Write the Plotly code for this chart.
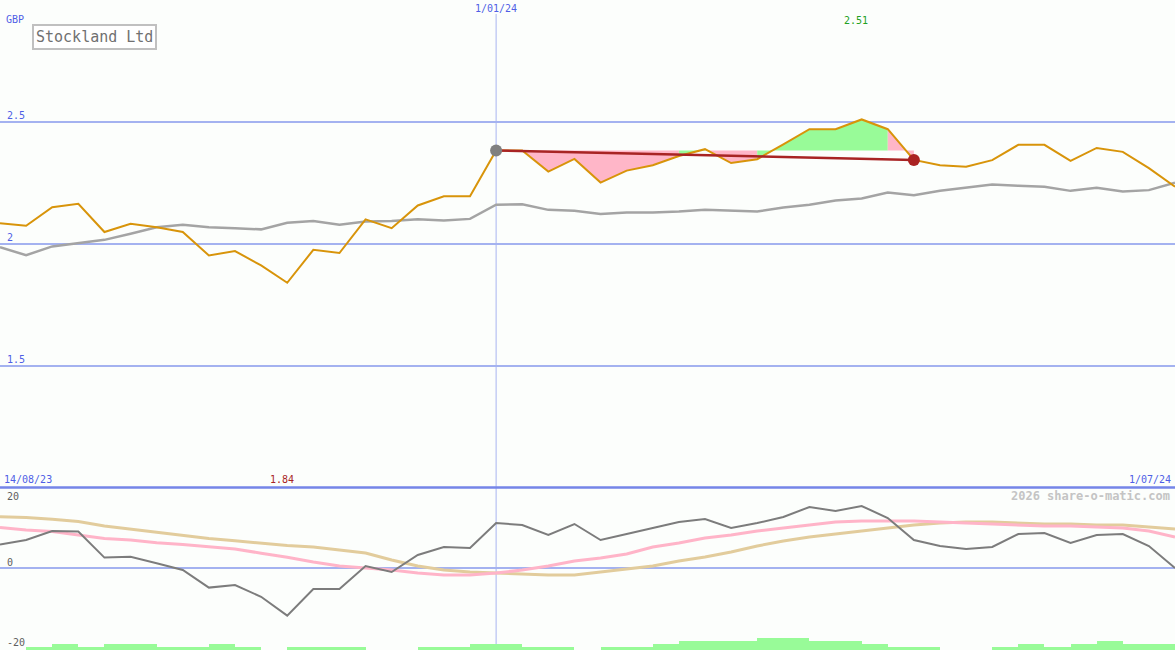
import pandas as pd
import plotly.graph_objects as go

# ---------------- data ----------------
dates = pd.date_range("2023-08-21", periods=46, freq="7D")

price = [2.084, 2.074, 2.150, 2.164, 2.048, 2.082, 2.068, 2.048, 1.952, 1.970,
         1.911, 1.840, 1.975, 1.962, 2.100, 2.064, 2.157, 2.195, 2.195, 2.383,
         2.383, 2.296, 2.348, 2.251, 2.300, 2.322, 2.360, 2.388, 2.331, 2.347,
         2.408, 2.470, 2.470, 2.510, 2.470, 2.344, 2.322, 2.316, 2.343, 2.406,
         2.406, 2.340, 2.393, 2.377, 2.310, 2.234]

moving_avg = [1.986, 1.953, 1.989, 2.002, 2.016, 2.041, 2.068, 2.078, 2.068, 2.064,
              2.059, 2.086, 2.093, 2.078, 2.091, 2.093, 2.101, 2.095, 2.102, 2.160,
              2.162, 2.139, 2.135, 2.122, 2.128, 2.128, 2.132, 2.140, 2.137, 2.132,
              2.149, 2.160, 2.177, 2.186, 2.210, 2.199, 2.217, 2.230, 2.243, 2.238,
              2.234, 2.217, 2.230, 2.214, 2.220, 2.250]

oscillator = [5.9, 7.0, 9.25, 9.1, 2.6, 2.8, 1.2, -0.5, -4.9, -4.25,
              -7.2, -11.9, -5.25, -5.25, 0.5, -1.0, 3.25, 5.25, 5.0, 11.25,
              10.75, 8.25, 11.0, 7.0, 8.5, 10.0, 11.5, 12.25, 10.0, 11.25,
              12.75, 15.25, 14.25, 15.5, 12.5, 7.0, 5.5, 4.75, 5.25, 8.5,
              8.75, 6.25, 8.25, 8.5, 5.5, 0.0]

osc_medium = [10.1, 9.5, 9.1, 8.25, 7.4, 7.0, 6.3, 5.9, 5.3, 4.75,
              3.7, 2.7, 1.5, 0.5, 0.0, -0.5, -1.25, -1.75, -1.75, -1.25,
              -0.5, 0.5, 1.75, 2.5, 3.5, 5.25, 6.25, 7.5, 8.25, 9.25,
              10.0, 10.75, 11.5, 11.75, 11.75, 11.75, 11.5, 11.25, 11.0, 10.75,
              10.5, 10.5, 10.25, 10.0, 9.25, 7.75]

osc_slow = [12.8, 12.6, 12.2, 11.6, 10.5, 9.7, 8.9, 8.25, 7.4, 6.8,
            6.2, 5.6, 5.25, 4.5, 3.75, 2.0, 0.5, -0.5, -1.0, -1.25,
            -1.5, -1.75, -1.75, -1.0, -0.25, 0.5, 1.75, 2.75, 4.0, 5.5,
            6.75, 7.75, 8.5, 9.25, 10.0, 10.75, 11.25, 11.5, 11.5, 11.25,
            11.0, 11.0, 10.75, 10.75, 10.25, 9.75]

bar_levels = [0, 1, 2, 1, 2, 2, 1, 1, 2, 1, 0, 1, 1, 1, 0, 0, 1, 1, 2, 2, 1, 1, 0,
              1, 1, 2, 3, 3, 3, 4, 4, 3, 3, 2, 1, 1, 0, 0, 1, 2, 1, 2, 3, 2, 2]

trend_start, trend_end = 19, 35
marker_date = "2024-01-01"
marker_label = "1/01/24"
title = "Stockland Ltd"
currency = "GBP"
price_ticks = [1.5, 2, 2.5]
price_tick_text = ["1.5", "2", "2.5"]
osc_ticks = ["20", "0", "-20"]
start_label, end_label = "14/08/23", "1/07/24"
watermark = "2026 share-o-matic.com"

# ---------------- styles ----------------
BG = "#fcfefc"
BLUE_TXT = "#4f5fe6"
GRID = "#a4b2f0"
FONT = "DejaVu Sans Mono"
W, H = 1175, 650
GREEN = "#98fb98"
PINK = "#ffb6c8"

fig = go.Figure()

# fill polygons between price and the starting level of the trend, grouped in runs
base = price[trend_start]
seg_cols = [GREEN if price[i + 1] > base else PINK for i in range(trend_start, trend_end)]
runs = []
i = trend_start
while i < trend_end:
    c = seg_cols[i - trend_start]
    j = i
    while j + 1 < trend_end and seg_cols[j + 1 - trend_start] == c:
        j += 1
    runs.append((i, j + 1, c))
    i = j + 1
for a, b, c in runs:
    xs = [dates[a]] + [dates[k] for k in range(a, b + 1)] + [dates[b], dates[a]]
    ys = [base] + [price[k] for k in range(a, b + 1)] + [base, base]
    fig.add_trace(go.Scatter(x=xs, y=ys, fill="toself", fillcolor=c, mode="lines",
                             line=dict(width=0), hoverinfo="skip", yaxis="y"))

fig.add_trace(go.Scatter(x=dates, y=moving_avg, mode="lines",
                         line=dict(color="#a4a4a4", width=2.5), yaxis="y"))
fig.add_trace(go.Scatter(x=dates, y=price, mode="lines",
                         line=dict(color="#d8940a", width=2), yaxis="y"))
fig.add_trace(go.Scatter(x=[dates[trend_start], dates[trend_end]],
                         y=[price[trend_start], price[trend_end]], mode="lines",
                         line=dict(color="#a82424", width=2.5), yaxis="y"))
fig.add_trace(go.Scatter(x=[dates[trend_start]], y=[price[trend_start]], mode="markers",
                         marker=dict(color="#808080", size=12), yaxis="y"))
fig.add_trace(go.Scatter(x=[dates[trend_end]], y=[price[trend_end]], mode="markers",
                         marker=dict(color="#aa2222", size=12), yaxis="y"))

# lower panel
y2_bottom = -20.5
mids = [dates[k] + (dates[k + 1] - dates[k]) / 2 for k in range(len(dates) - 1)]
fig.add_trace(go.Bar(x=mids, y=[l * 0.75 for l in bar_levels], base=y2_bottom,
                     width=7 * 86400000, marker=dict(color=GREEN, line=dict(width=0)),
                     yaxis="y2"))
fig.add_trace(go.Scatter(x=dates, y=osc_slow, mode="lines",
                         line=dict(color="#e2cc9c", width=3), yaxis="y2"))
fig.add_trace(go.Scatter(x=dates, y=osc_medium, mode="lines",
                         line=dict(color="#ffb4c8", width=3), yaxis="y2"))
fig.add_trace(go.Scatter(x=dates, y=oscillator, mode="lines",
                         line=dict(color="#7c7c7c", width=2), yaxis="y2"))

split = 162.5 / H
fig.update_layout(
    width=W, height=H, margin=dict(l=0, r=0, t=0, b=0),
    paper_bgcolor=BG, plot_bgcolor=BG, showlegend=False, hovermode=False,
    bargap=0,
    xaxis=dict(range=[dates[0], dates[-1]], showgrid=False, zeroline=False,
               showticklabels=False, showline=False, anchor="y2"),
    yaxis=dict(domain=[split, 1], range=[1.0, 3.0], tickvals=price_ticks,
               showticklabels=False, showgrid=True, gridcolor=GRID, gridwidth=2,
               zeroline=False),
    yaxis2=dict(domain=[0, split - 1.5 / H], range=[y2_bottom, 19.75], tickvals=[0],
                showticklabels=False, showgrid=True, gridcolor=GRID, gridwidth=2,
                zeroline=False),
)

shapes = [
    dict(type="line", xref="paper", yref="paper", x0=0, x1=1, y0=split, y1=split,
         line=dict(color="#7585e8", width=2.5)),
    dict(type="line", xref="x", yref="paper", x0=marker_date, x1=marker_date,
         y0=0, y1=1 - 14 / H, line=dict(color="#a8b4f0", width=1), layer="below"),
]
fig.update_layout(shapes=shapes)

ann = []
def A(text, x, y, xref="paper", yref="paper", xanchor="left", yanchor="middle",
      color=BLUE_TXT, size=10, **kw):
    ann.append(dict(text=text, x=x, y=y, xref=xref, yref=yref, xanchor=xanchor,
                    yanchor=yanchor, showarrow=False,
                    font=dict(family=FONT, size=size, color=color), **kw))

A(currency, 4 / W, 1 - 19 / H)
for v, t in zip(price_ticks, price_tick_text):
    A(t, 5 / W, v, yref="y", yshift=6)
A(marker_label, marker_date, 1 - 9 / H, xref="x", xanchor="center")
imax = price.index(max(price))
imin = price.index(min(price))
A(f"{price[imax]:.2f}", dates[imax], 1 - 21 / H, xref="x",
  xanchor="center", xshift=-6, color="#22a022")
A(f"{price[imin]:.2f}", dates[imin], 1 - 479 / H, xref="x",
  xanchor="center", xshift=-5, color="#a82424")
A(start_label, 2 / W, 1 - 479 / H)
A(end_label, 1 - 2 / W, 1 - 479 / H, xanchor="right")
A(osc_ticks[0], 5 / W, 1 - 496 / H, color="#606060")
A(osc_ticks[1], 5 / W, 0, yref="y2", yshift=6, color="#606060")
A(osc_ticks[2], 5 / W, 1 - 642 / H, color="#606060")
A(f"<b>{watermark}</b>", 1 - 3 / W, 1 - 496 / H, xanchor="right", color="#c4c4c4", size=12)
A(title, 32 / W, 1 - 24 / H, yanchor="top", color="#707070", size=15,
  bordercolor="#c0c0c0", borderwidth=2, borderpad=2, bgcolor="#ffffff")
fig.update_layout(annotations=ann)

fig.write_html("out.html", config={"displayModeBar": False},
               post_script="document.body.style.margin='0';document.body.style.overflow='hidden';")
